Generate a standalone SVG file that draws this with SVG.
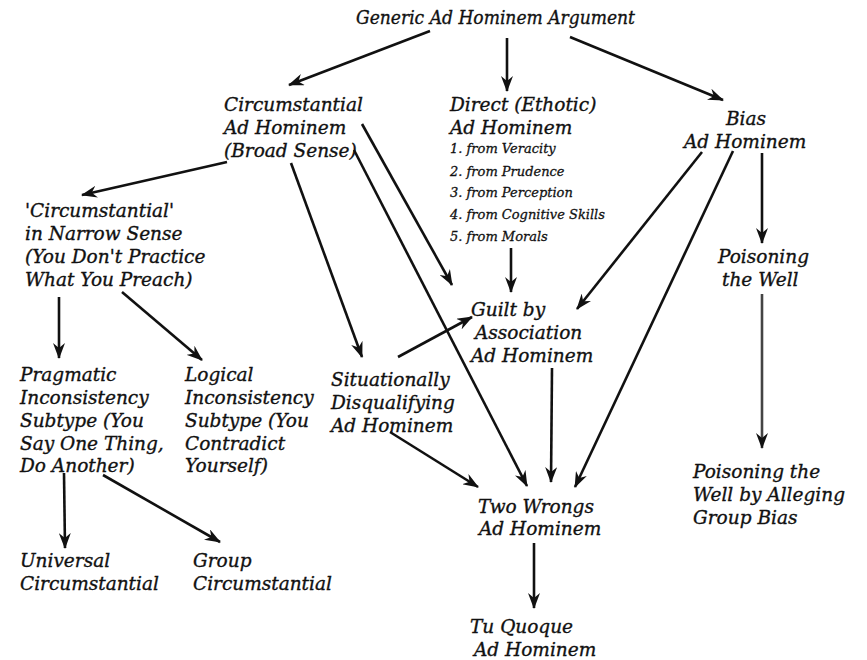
<svg xmlns="http://www.w3.org/2000/svg" width="867" height="660" viewBox="0 0 867 660">
<style>
text{font-family:"DejaVu Serif","Liberation Serif",serif;font-style:italic;font-size:18.5px;fill:#111;stroke:#111;stroke-width:0.35}
.s{font-size:13px;stroke-width:0.3}
.c{stroke:#111;stroke-width:2.6;fill:none;marker-end:url(#ah)}
</style>
<defs>
<marker id="ah" viewBox="0 0 16 12" refX="15" refY="6" markerWidth="16" markerHeight="12" markerUnits="userSpaceOnUse" orient="auto">
<path d="M0,0 L16,6 L0,12 L5,6 Z" fill="#111"/>
</marker>
</defs>
<rect width="867" height="660" fill="#fff"/>
<g id="connectors">
<line class="c" x1="430" y1="31" x2="289" y2="85"/>
<line class="c" x1="507" y1="38" x2="507" y2="91"/>
<line class="c" x1="570" y1="37" x2="723" y2="100"/>
<line class="c" x1="227" y1="162" x2="82" y2="195"/>
<line class="c" x1="362" y1="124" x2="452" y2="285"/>
<line class="c" x1="354" y1="150" x2="527" y2="486"/>
<line class="c" x1="291" y1="163" x2="362" y2="357"/>
<line class="c" x1="511" y1="248" x2="511" y2="292"/>
<line class="c" x1="702" y1="152" x2="577" y2="309"/>
<line class="c" x1="733" y1="151" x2="575" y2="487"/>
<line class="c" x1="762" y1="153" x2="762" y2="243"/>
<line class="c" x1="762" y1="294" x2="762" y2="448" style="stroke:#444"/>
<line class="c" x1="59" y1="297" x2="59" y2="358"/>
<line class="c" x1="122" y1="292" x2="202" y2="360"/>
<line class="c" x1="398" y1="357" x2="472" y2="317"/>
<line class="c" x1="390" y1="432" x2="478" y2="487"/>
<line class="c" x1="552" y1="368" x2="551" y2="482"/>
<line class="c" x1="534" y1="543" x2="534" y2="608"/>
<line class="c" x1="64" y1="473" x2="65" y2="548"/>
<line class="c" x1="103" y1="475" x2="220" y2="542"/>
</g>
<g id="generic"><text x="356" y="24" textLength="279" lengthAdjust="spacingAndGlyphs">Generic Ad Hominem Argument</text></g>
<g id="circumstantial">
<text x="224" y="111">Circumstantial</text>
<text x="224" y="134">Ad Hominem</text>
<text x="224" y="157">(Broad Sense)</text>
</g>
<g id="direct">
<text x="450" y="111">Direct (Ethotic)</text>
<text x="450" y="134">Ad Hominem</text>
<text class="s" x="450" y="153">1. from Veracity</text>
<text class="s" x="450" y="176">2. from Prudence</text>
<text class="s" x="450" y="197">3. from Perception</text>
<text class="s" x="450" y="219">4. from Cognitive Skills</text>
<text class="s" x="450" y="241">5. from Morals</text>
</g>
<g id="bias">
<text x="726" y="125">Bias</text>
<text x="684" y="148">Ad Hominem</text>
</g>
<g id="narrow">
<text x="25" y="217">'Circumstantial'</text>
<text x="25" y="240">in Narrow Sense</text>
<text x="25" y="263">(You Don't Practice</text>
<text x="25" y="286">What You Preach)</text>
</g>
<g id="pragmatic">
<text x="20" y="381">Pragmatic</text>
<text x="20" y="404">Inconsistency</text>
<text x="20" y="427">Subtype (You</text>
<text x="20" y="450">Say One Thing,</text>
<text x="20" y="472">Do Another)</text>
</g>
<g id="logical">
<text x="185" y="381">Logical</text>
<text x="185" y="404">Inconsistency</text>
<text x="185" y="427">Subtype (You</text>
<text x="185" y="450">Contradict</text>
<text x="185" y="472">Yourself)</text>
</g>
<g id="situational">
<text x="331" y="386">Situationally</text>
<text x="331" y="409">Disqualifying</text>
<text x="331" y="432">Ad Hominem</text>
</g>
<g id="guilt">
<text x="471" y="316">Guilt by</text>
<text x="475" y="339">Association</text>
<text x="471" y="362">Ad Hominem</text>
</g>
<g id="poisoning">
<text x="718" y="263">Poisoning</text>
<text x="722" y="286">the Well</text>
</g>
<g id="poisoning-group">
<text x="693" y="478">Poisoning the</text>
<text x="693" y="501">Well by Alleging</text>
<text x="693" y="524">Group Bias</text>
</g>
<g id="two-wrongs">
<text x="478" y="513">Two Wrongs</text>
<text x="479" y="535">Ad Hominem</text>
</g>
<g id="tu-quoque">
<text x="470" y="633">Tu Quoque</text>
<text x="474" y="656">Ad Hominem</text>
</g>
<g id="universal">
<text x="20" y="567">Universal</text>
<text x="20" y="590">Circumstantial</text>
</g>
<g id="group">
<text x="193" y="567">Group</text>
<text x="193" y="590">Circumstantial</text>
</g>
</svg>
